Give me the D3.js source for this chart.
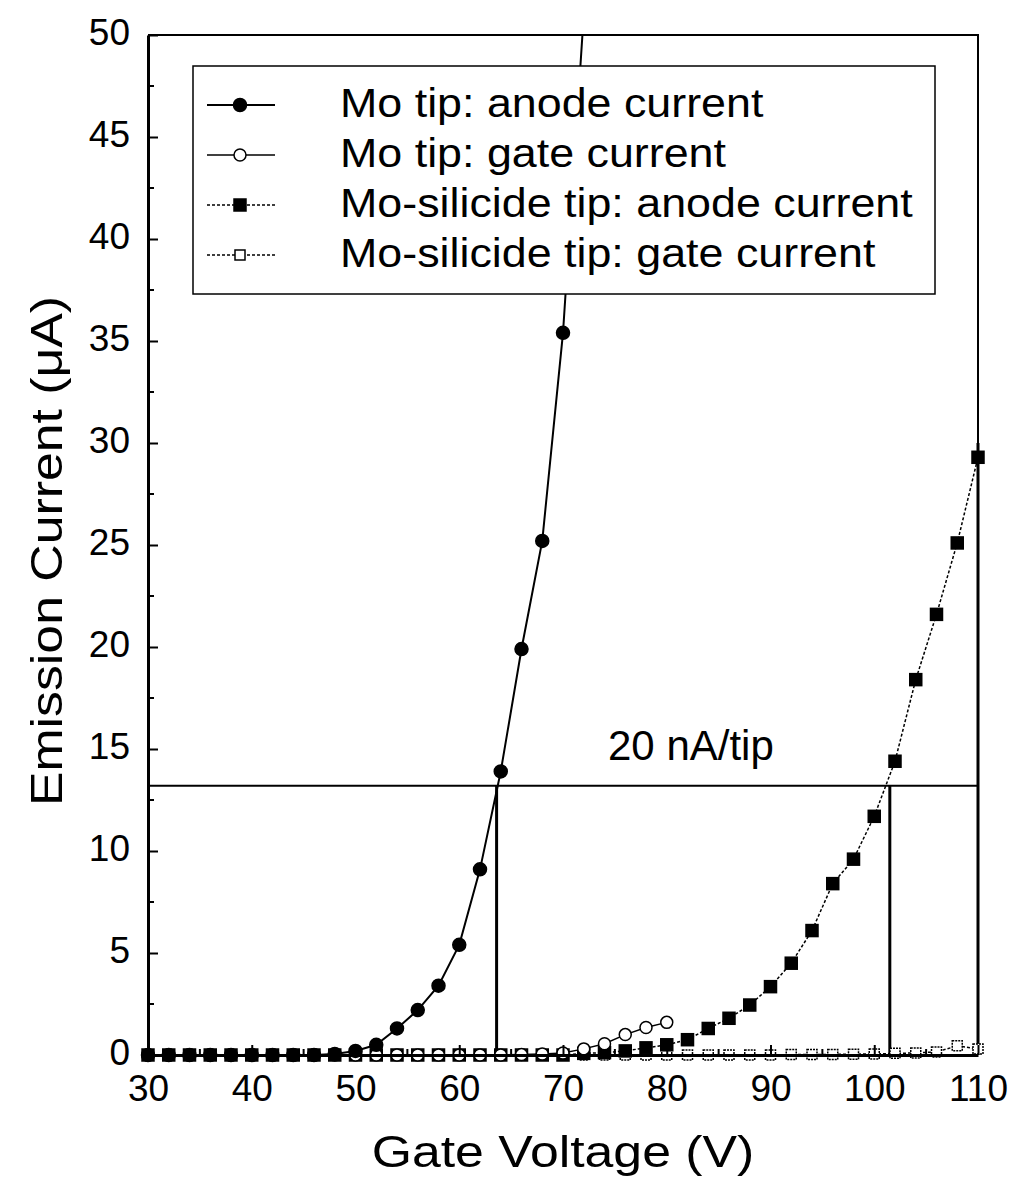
<!DOCTYPE html>
<html>
<head>
<title>emission current</title>
<script type="text/javascript" src="https://cdn.jsdelivr.net/npm/d3@7/dist/d3.min.js"></script>
<style>
body { margin: 0; background: #fff; }
text { font-family: "Liberation Sans", Arial, sans-serif; fill: #000; }
</style>
</head>
<body>
<svg width="1026" height="1184"></svg>
<script type="text/javascript">

// gate voltage steps (V)
var voltsMo = [30,32,34,36,38,40,42,44,46,48,50,52,54,56,58,60,62,64,66,68,70,72];
var moAnode = [0,0,0,0,0,0,0,0,0,0.05,0.2,0.5,1.3,2.2,3.4,5.4,9.1,13.9,19.9,25.2,35.4,51];

var voltsMoGate = [30,32,34,36,38,40,42,44,46,48,50,52,54,56,58,60,62,64,66,68,70,72,74,76,78,80];
var moGate = [0,0,0,0,0,0,0,0,0,0,0,0,0,0,0,0,0,0,0.02,0.05,0.1,0.3,0.55,1.0,1.35,1.6];

var voltsSi = [30,32,34,36,38,40,42,44,46,48,50,52,54,56,58,60,62,64,66,68,70,
  72,74,76,78,80,82,84,86,88,90,92,94,96,98,100,102,104,106,108,110];
var siAnode = [0,0,0,0,0,0,0,0,0,0,0,0,0,0,0,0,0,0,0,0,0,
  0.08,0.12,0.2,0.35,0.5,0.75,1.3,1.8,2.45,3.35,4.5,6.1,8.4,9.6,11.7,14.4,18.4,21.6,25.1,29.3];
var siGate = [0,0,0,0,0,0,0,0,0,0,0,0,0,0,0,0,0,0,0,0,0,
  0,0,0,0,0,0,0,0,0,0,0.02,0.03,0.03,0.04,0.05,0.08,0.1,0.15,0.45,0.3];

var xTicks = [30,40,50,60,70,80,90,100,110];
var yTicks = [0,5,10,15,20,25,30,35,40,45,50];

// 20 nA/tip level and where the curves cross it
var level = 13.2;
var crossMo = 63.6;
var crossSi = 101.5;
var rightMark = 110;
var rightMarkTop = 30;

var legendNames = ["Mo tip: anode current", "Mo tip: gate current",
  "Mo-silicide tip: anode current", "Mo-silicide tip: gate current"];

var svg = d3.select("svg");

var x = d3.scaleLinear().domain([30, 110]).range([148, 978]);
var y = d3.scaleLinear().domain([0, 50]).range([1055, 35]);

// the scanned lettering is a bit wider than Liberation Sans
function stretch(sel, k) {
  sel.each(function() {
    var len = this.getComputedTextLength();
    d3.select(this).attr("textLength", len * k).attr("lengthAdjust", "spacingAndGlyphs");
  });
}

svg.append("clipPath").attr("id", "plot")
.append("rect").attr("x", 140).attr("y", 35).attr("width", 860).attr("height", 1030);

// frame (top and right)
svg.append("path")
.attr("d", "M" + x(30) + "," + y(50) + "H" + x(110) + "V" + y(0))
.attr("fill", "none").attr("stroke", "#000").attr("stroke-width", 2);

// reference lines
svg.append("line")
.attr("x1", x(30)).attr("x2", x(rightMark))
.attr("y1", y(level)).attr("y2", y(level))
.attr("stroke", "#000").attr("stroke-width", 2);
svg.append("line")
.attr("x1", x(crossMo)).attr("x2", x(crossMo))
.attr("y1", y(level)).attr("y2", y(0))
.attr("stroke", "#000").attr("stroke-width", 3);
svg.append("line")
.attr("x1", x(crossSi)).attr("x2", x(crossSi))
.attr("y1", y(level)).attr("y2", y(0))
.attr("stroke", "#000").attr("stroke-width", 3);
svg.append("line")
.attr("x1", x(rightMark)).attr("x2", x(rightMark))
.attr("y1", y(rightMarkTop)).attr("y2", y(0))
.attr("stroke", "#000").attr("stroke-width", 3);

svg.append("text")
.attr("x", 608).attr("y", 760)
.attr("font-size", 42)
.text("20 nA/tip");

var line = d3.line()
.x(function(d) { return x(d[0]); })
.y(function(d) { return y(d[1]); });

function pairs(xs, ys) {
  return xs.map(function(v, k) { return [v, ys[k]]; });
}

var series = [
  { data: pairs(voltsSi, siGate), width: 1.5, dash: "3,2", marker: "square", fill: "#fff", size: 10 },
  { data: pairs(voltsSi, siAnode), width: 1.5, dash: "3,2", marker: "square", fill: "#000", size: 12 },
  { data: pairs(voltsMoGate, moGate), width: 1.5, dash: null, marker: "circle", fill: "#fff", size: 12 },
  { data: pairs(voltsMo, moAnode), width: 2, dash: null, marker: "circle", fill: "#000", size: 13 }
];

var plot = svg.append("g").attr("clip-path", "url(#plot)");

series.forEach(function(s) {
  plot.append("path")
  .attr("d", line(s.data))
  .attr("fill", "none")
  .attr("stroke", "#000")
  .attr("stroke-width", s.width)
  .attr("stroke-dasharray", s.dash);

  var pts = plot.selectAll(null).data(s.data.filter(function(d) { return d[1] <= 50; }));
  if (s.marker == "circle") {
    pts.enter().append("circle")
    .attr("cx", function(d) { return x(d[0]); })
    .attr("cy", function(d) { return y(d[1]); })
    .attr("r", s.size / 2)
    .attr("fill", s.fill).attr("stroke", "#000").attr("stroke-width", 1.5);
  } else {
    pts.enter().append("rect")
    .attr("x", function(d) { return x(d[0]) - s.size / 2; })
    .attr("y", function(d) { return y(d[1]) - s.size / 2; })
    .attr("width", s.size).attr("height", s.size)
    .attr("fill", s.fill).attr("stroke", "#000").attr("stroke-width", 1.5)
    .attr("stroke-dasharray", s.fill == "#fff" ? "2,1" : null);
  }
});

// axes
var xAxis = d3.axisBottom(x).tickValues(xTicks).tickSizeInner(-10).tickSizeOuter(0).tickPadding(20);
var gx = svg.append("g").attr("transform", "translate(0," + y(0) + ")").call(xAxis);
gx.selectAll("text").attr("font-size", 37).attr("font-family", "Liberation Sans, Arial, sans-serif");
gx.select(".domain").attr("stroke-width", 3);
gx.selectAll(".tick line").attr("stroke-width", 2);

var yAxis = d3.axisLeft(y).tickValues(yTicks).tickSizeInner(-10).tickSizeOuter(0).tickPadding(18);
var gy = svg.append("g").attr("transform", "translate(" + x(30) + ",0)").call(yAxis);
gy.selectAll("text").attr("font-size", 37).attr("font-family", "Liberation Sans, Arial, sans-serif")
.attr("dy", "0.25em");
gy.select(".domain").attr("stroke-width", 3);
gy.selectAll(".tick line").attr("stroke-width", 2);

// minor ticks
var yMinor = d3.range(2.5, 50, 5);
svg.selectAll(null).data(yMinor).enter().append("line")
.attr("x1", x(30)).attr("x2", x(30) + 6)
.attr("y1", function(d) { return y(d); }).attr("y2", function(d) { return y(d); })
.attr("stroke", "#000").attr("stroke-width", 2);
var xMinor = d3.range(35, 110, 10);
svg.selectAll(null).data(xMinor).enter().append("line")
.attr("x1", function(d) { return x(d); }).attr("x2", function(d) { return x(d); })
.attr("y1", y(0)).attr("y2", y(0) - 6)
.attr("stroke", "#000").attr("stroke-width", 2);

var xt = svg.append("text")
.attr("x", 563).attr("y", 1167)
.attr("text-anchor", "middle")
.attr("font-size", 45)
.text("Gate Voltage (V)");
stretch(xt, 1.15);

var yt = svg.append("text")
.attr("transform", "translate(62,551) rotate(-90)")
.attr("text-anchor", "middle")
.attr("font-size", 45)
.text("Emission Current (\u03BCA)");
stretch(yt, 1.15);

// legend
var lg = svg.append("g");
lg.append("rect")
.attr("x", 193).attr("y", 66).attr("width", 742).attr("height", 228)
.attr("fill", "#fff").attr("stroke", "#000").attr("stroke-width", 1.5);

var rows = lg.selectAll(null).data(legendNames).enter().append("g")
.attr("transform", function(d, k) { return "translate(0," + (105 + k * 50) + ")"; });

var legendStyle = [series[3], series[2], series[1], series[0]];
rows.append("line")
.attr("x1", 207).attr("x2", 275).attr("y1", 0).attr("y2", 0)
.attr("stroke", "#000")
.attr("stroke-width", function(d, k) { return legendStyle[k].width; })
.attr("stroke-dasharray", function(d, k) { return legendStyle[k].dash; });
rows.each(function(d, k) {
  var s = legendStyle[k];
  var g = d3.select(this);
  if (s.marker == "circle") {
    g.append("circle").attr("cx", 240).attr("cy", 0).attr("r", s.size / 2)
    .attr("fill", s.fill).attr("stroke", "#000").attr("stroke-width", 1.5);
  } else {
    g.append("rect").attr("x", 240 - s.size / 2).attr("y", -s.size / 2)
    .attr("width", s.size).attr("height", s.size)
    .attr("fill", s.fill).attr("stroke", "#000").attr("stroke-width", 1.5);
  }
});
var lt = rows.append("text")
.attr("x", 340).attr("y", 12)
.attr("font-size", 40)
.text(function(d) { return d; });
stretch(lt, 1.12);

</script>
</body>
</html>
